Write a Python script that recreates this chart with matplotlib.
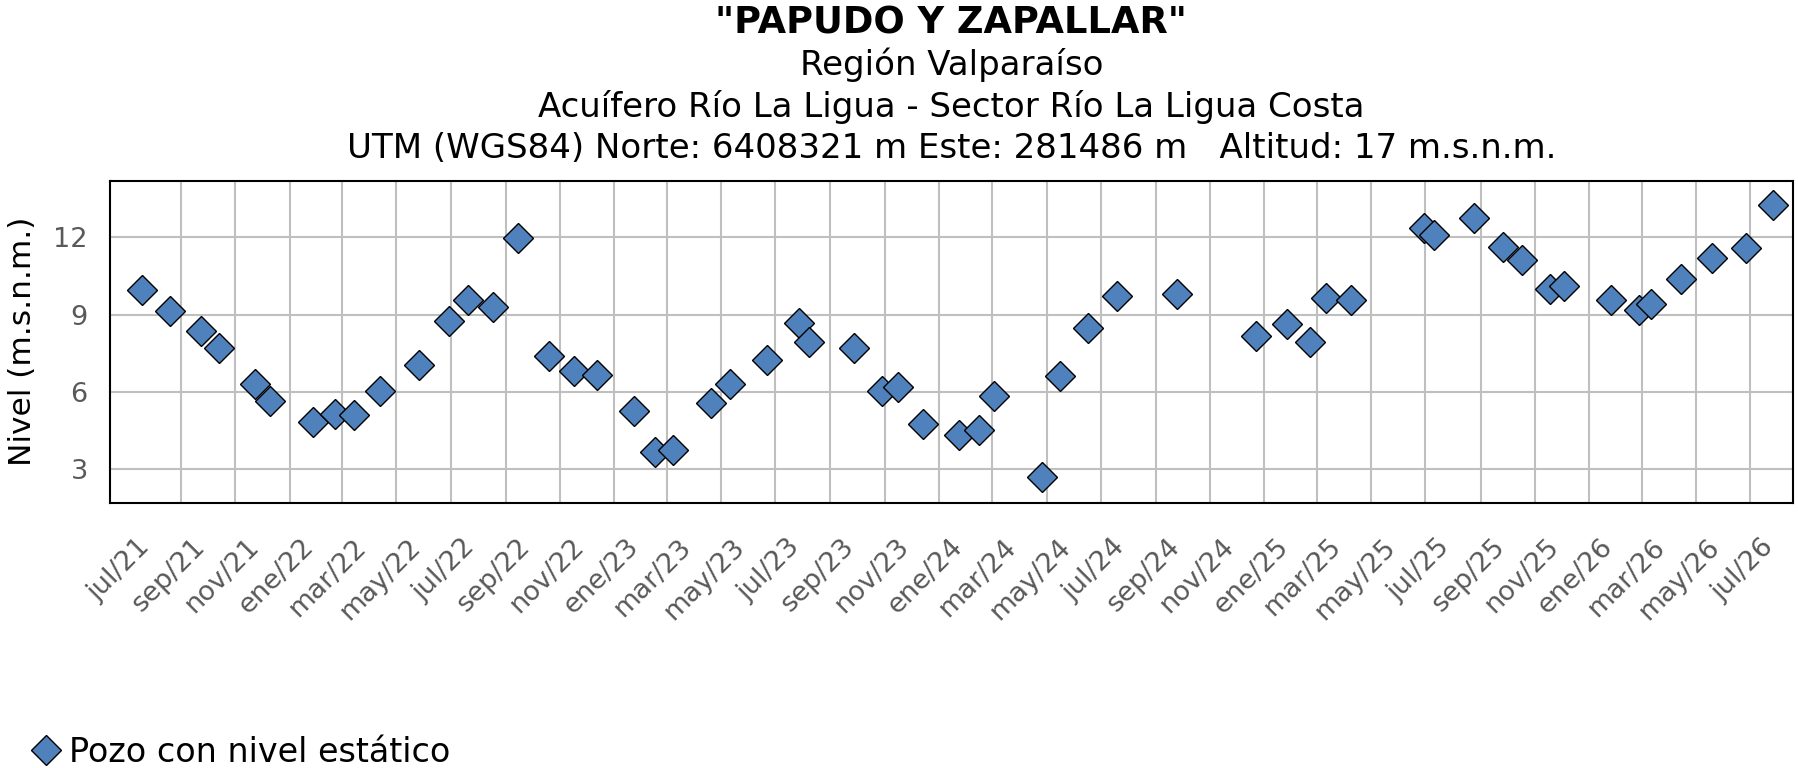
import matplotlib
matplotlib.use("Agg")
import matplotlib.pyplot as plt
import matplotlib.transforms as mtransforms
import pandas as pd

# datos
fechas = ['2021-07-19', '2021-08-19', '2021-09-23', '2021-10-14', '2021-11-23', '2021-12-10',
          '2022-01-27', '2022-02-21', '2022-03-14', '2022-04-13', '2022-05-26', '2022-06-29',
          '2022-07-20', '2022-08-18', '2022-09-15', '2022-10-19', '2022-11-17', '2022-12-12',
          '2023-01-23', '2023-02-16', '2023-03-08', '2023-04-20', '2023-05-11', '2023-06-22',
          '2023-07-28', '2023-08-08', '2023-09-27', '2023-10-29', '2023-11-16', '2023-12-14',
          '2024-01-24', '2024-02-15', '2024-03-03', '2024-04-26', '2024-05-16', '2024-06-17',
          '2024-07-19', '2024-09-25', '2024-12-23', '2025-01-26', '2025-02-21', '2025-03-11',
          '2025-04-08', '2025-06-29', '2025-07-11', '2025-08-25', '2025-09-26', '2025-10-17',
          '2025-11-18', '2025-12-04', '2026-01-26', '2026-02-26', '2026-03-12', '2026-04-14',
          '2026-05-19', '2026-06-26', '2026-07-27']
nivel = [9.97, 9.13, 8.38, 7.69, 6.30, 5.64,
         4.85, 5.16, 5.09, 6.05, 7.05, 8.77,
         9.56, 9.31, 11.96, 7.40, 6.80, 6.66,
         5.25, 3.65, 3.76, 5.57, 6.31, 7.25,
         8.66, 7.93, 7.69, 6.03, 6.21, 4.75,
         4.33, 4.54, 5.84, 2.69, 6.62, 8.50,
         9.74, 9.79, 8.19, 8.65, 7.94, 9.66,
         9.57, 12.38, 12.08, 12.74, 11.64, 11.13,
         9.99, 10.12, 9.56, 9.17, 9.40, 10.38,
         11.19, 11.57, 13.24]

meses = ['ene', 'feb', 'mar', 'abr', 'may', 'jun', 'jul', 'ago', 'sep', 'oct', 'nov', 'dic']
ticks = pd.date_range('2021-07-01', '2026-07-01', freq='2MS')
tick_labels = [f"{meses[t.month - 1]}/{t.year % 100:02d}" for t in ticks]
y_ticks = [3, 6, 9, 12]

titulo = '"PAPUDO Y ZAPALLAR"'
subtitulos = ['Región Valparaíso',
              'Acuífero Río La Ligua - Sector Río La Ligua Costa',
              'UTM (WGS84) Norte: 6408321 m Este: 281486 m   Altitud: 17 m.s.n.m.']

plt.rcParams['font.family'] = ['DejaVu Sans']

fig = plt.figure(figsize=(17.98, 7.68), dpi=100)
ax = fig.add_axes([0.0612, 0.3454, 0.9359, 0.4193])

x = pd.to_datetime(fechas)
ax.plot(x, nivel, linestyle='none', marker='D', ms=14.8, mfc='#4F81BD', mec='black',
        mew=1.0, label='Pozo con nivel estático', zorder=3)

ax.set_xlim(pd.Timestamp('2021-06-13'), pd.Timestamp('2026-08-18'))
ax.set_ylim(1.7, 14.2)
ax.set_xticks(ticks)
ax.set_xticklabels(tick_labels, rotation=45, ha='right', va='top', rotation_mode='anchor',
                   fontsize=19.5, color='#595959')
ax.set_yticks(y_ticks)
ax.set_yticklabels([str(v) for v in y_ticks], fontsize=19.5, color='#595959')
ax.tick_params(axis='both', length=0)
ax.tick_params(axis='y', pad=16)
ax.tick_params(axis='x', pad=0)

# las etiquetas del eje x van corridas como en excel
off = mtransforms.ScaledTranslation(0.11, -0.31, fig.dpi_scale_trans)
for lab in ax.get_xticklabels():
    lab.set_transform(lab.get_transform() + off)

ax.set_axisbelow(True)
ax.grid(True, color='#BFBFBF', lw=1.5)
ax.xaxis.get_gridlines()[0].set_visible(False)
for s in ax.spines.values():
    s.set_linewidth(1.5)
    s.set_color('black')

ax.set_ylabel('Nivel (m.s.n.m.)', fontsize=22.5, labelpad=12)

xc = 0.0612 + 0.9359 / 2
fig.text(xc, 1 - 33 / 768, titulo, ha='center', va='baseline', fontsize=26.5, fontweight='bold')
for i, s in enumerate(subtitulos):
    fig.text(xc, 1 - (75 + 41.5 * i) / 768, s, ha='center', va='baseline', fontsize=24.5)

fig.legend(loc='center left', bbox_to_anchor=(0.018, 1 - 752 / 768), frameon=False,
           fontsize=24, handlelength=0.8, handletextpad=0.3, borderpad=0, borderaxespad=0)

fig.savefig('out.png', dpi=100)
